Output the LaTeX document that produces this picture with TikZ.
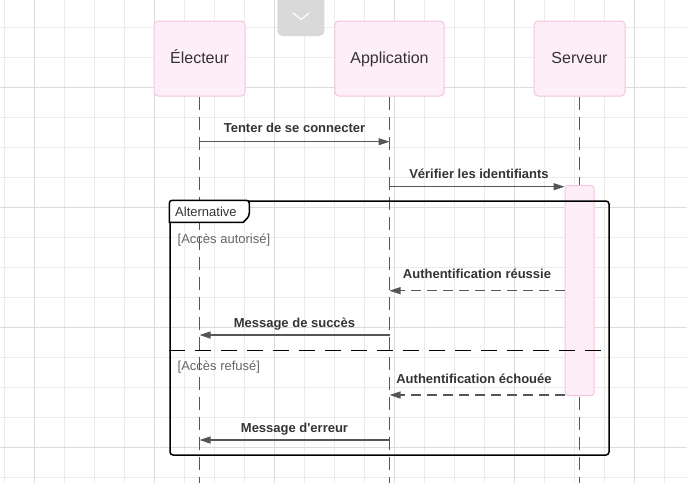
\documentclass[tikz,border=0pt]{standalone}
\usepackage{fontspec}
\setmainfont{Liberation Sans}
\usetikzlibrary{arrows.meta,positioning}
\definecolor{boxfill}{RGB}{254,238,248}
\definecolor{boxline}{RGB}{246,196,224}
\definecolor{msgcol}{RGB}{85,85,85}
\definecolor{txtcol}{RGB}{51,51,51}
\definecolor{gridlight}{RGB}{236,236,236}
\definecolor{griddark}{RGB}{220,220,220}
\definecolor{btnfill}{RGB}{217,217,217}
\tikzset{
actor/.style={
  draw=boxline,
  fill=boxfill,
  rounded corners=4pt,
  line width=1pt,
  inner xsep=15.5pt,
  text height=12pt,
  text depth=3pt,
  minimum width=91pt,
  minimum height=75pt,
  text=txtcol,
  font=\fontsize{16}{19}\selectfont
  },
lifeline/.style={msgcol,line width=1.1pt,dash pattern=on 13pt off 7pt},
msg/.style={msgcol,line width=1.2pt,-{Triangle[length=11pt,width=7pt]}},
reply/.style={msg,dash pattern=on 10pt off 6pt},
msglabel/.style={
  text=txtcol,
  inner sep=0pt,
  anchor=base,
  font=\fontsize{13}{15}\selectfont\bfseries
  },
guard/.style={text=black!60,inner sep=0pt,anchor=west,font=\fontsize{13}{15}\selectfont}
}

\begin{document}
\begin{tikzpicture}[x=1pt,y=-1pt]
\useasboundingbox (0,0) rectangle (687,483);

% grid
\foreach \x in {4,34,...,664}
  \draw[gridlight,line width=0.8pt] (\x,0) -- (\x,483);
\foreach \y in {27,57,...,477}
  \draw[gridlight,line width=0.8pt] (0,\y) -- (687,\y);
\foreach \x in {34,154,...,634}
  \draw[griddark,line width=0.8pt] (\x,0) -- (\x,483);
\foreach \y in {87,207,...,447}
  \draw[griddark,line width=0.8pt] (0,\y) -- (687,\y);

% toggle button
\node[fill=btnfill,rounded corners=5pt,minimum width=47pt,minimum height=46pt,inner sep=0pt]
  (toggle) at (300.8,13) {};
\draw[white,line width=1.2pt]
  (293,13) -- (301,19.5) -- (309,13);

% actors
\node[actor] (electeur) at (199.5,58.5) {Électeur};
\node[actor] (application) at (389.5,58.5) {Application};
\node[actor] (serveur) at (579.5,58.5) {Serveur};

\coordinate (bottom) at (0,483);
\draw[lifeline] (electeur.south) -- (electeur.south |- bottom);
\draw[lifeline] (application.south) -- (application.south |- bottom);
\draw[lifeline] (serveur.south) -- (serveur.south |- bottom);

% activation
\node[draw=boxline,fill=boxfill,line width=1pt,rounded corners=3pt,minimum width=29pt,minimum height=210pt,inner sep=0pt]
  (act) at (579.5,290.5) {};

% alternative frame
\node[draw=black,line width=1.5pt,rounded corners=3pt,minimum width=439pt,minimum height=254pt,inner sep=0pt]
  (alt) at (389.5,328) {};
\draw[fill=white,line width=1.5pt,rounded corners=3pt]
  (alt.north west) -- ++(80,0) -- ++(0,16)
  [sharp corners] -- ++(-6,6) -- ++(-74,0) [rounded corners=3pt] -- cycle;
\node[text=txtcol,inner sep=0pt,anchor=west,font=\fontsize{13}{15}\selectfont]
  (alttitle) at (175,211.5) {Alternative};
\coordinate (split) at (0,350.7);
\draw[black,line width=1.5pt,dash pattern=on 16pt off 10pt]
  (alt.west |- split) -- (alt.east |- split);
\node[guard] (okguard) at (177.5,240) {[Accès autorisé]};
\node[guard] (koguard) at (177.5,367) {[Accès refusé]};

% messages
\coordinate (m1) at (0,141.7);
\coordinate (m2) at (0,186.7);
\coordinate (m3) at (0,290.7);
\coordinate (m4) at (0,335);
\coordinate (m5) at (0,395);
\coordinate (m6) at (0,440);

\draw[msg] (electeur |- m1) -- (application |- m1)
  node[msglabel,midway,yshift=9pt] (l1) {Tenter de se connecter};
\draw[msg] (application |- m2) -- (act.west |- m2)
  node[msglabel,midway,yshift=8.5pt,xshift=2pt] (l2) {Vérifier les identifiants};
\draw[reply] (act.west |- m3) -- (application |- m3)
  node[msglabel,midway,yshift=12pt] (l3) {Authentification réussie};
\draw[msg] (application |- m4) -- (electeur |- m4)
  node[msglabel,midway,yshift=8pt] (l4) {Message de succès};
\draw[reply] (act.west |- m5) -- (application |- m5)
  node[msglabel,midway,yshift=12pt,xshift=-3pt] (l5) {Authentification échouée};
\draw[msg] (application |- m6) -- (electeur |- m6)
  node[msglabel,midway,yshift=8pt] (l6) {Message d\textquotesingle erreur};
\end{tikzpicture}
\end{document}
